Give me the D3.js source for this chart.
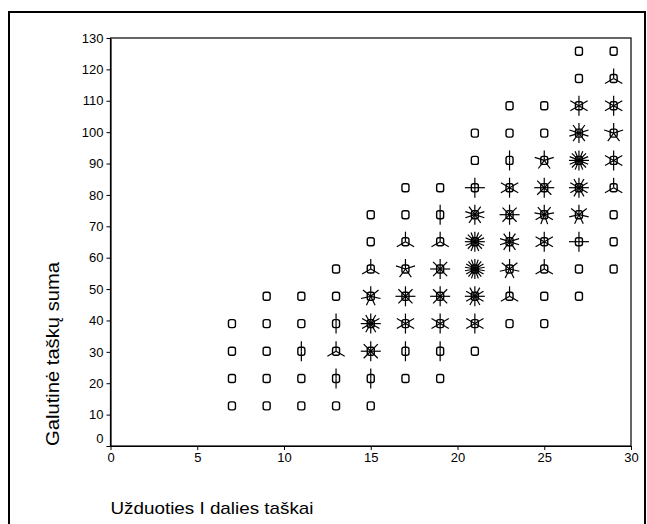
<!DOCTYPE html>
<html>
<head>
<meta charset="utf-8">
<script src="https://cdn.jsdelivr.net/npm/d3@7/dist/d3.min.js"></script>
<style>
  body { margin: 0; background: #fff; }
  svg { display: block; font-family: "Liberation Sans", Arial, sans-serif; }
</style>
</head>
<body>
<div id="chart"></div>
<script>
// sunflower plot: one marker per cell, one petal per observation (count 1 = marker only)
var xCols = [7, 9, 11, 13, 15, 17, 19, 21, 23, 25, 27, 29];
var yRows = [12.8, 21.5, 30.2, 39, 47.7, 56.4, 65.1, 73.7, 82.3, 91, 99.7, 108.4, 117.1, 125.8];
// counts[row][col], 0 = no point
var counts = [
  [1, 1, 1, 1, 1, 0, 0, 0, 0, 0, 0, 0],
  [1, 1, 1, 2, 2, 1, 1, 0, 0, 0, 0, 0],
  [1, 1, 2, 3, 8, 2, 2, 1, 0, 0, 0, 0],
  [1, 1, 1, 2, 12, 6, 6, 6, 1, 1, 0, 0],
  [0, 1, 1, 1, 7, 8, 8, 12, 3, 1, 1, 0],
  [0, 0, 0, 1, 3, 5, 8, 18, 7, 3, 1, 1],
  [0, 0, 0, 0, 1, 3, 3, 16, 10, 6, 4, 1],
  [0, 0, 0, 0, 1, 1, 2, 10, 8, 9, 7, 1],
  [0, 0, 0, 0, 0, 1, 1, 4, 6, 8, 12, 3],
  [0, 0, 0, 0, 0, 0, 0, 1, 2, 5, 16, 6],
  [0, 0, 0, 0, 0, 0, 0, 1, 1, 1, 10, 5],
  [0, 0, 0, 0, 0, 0, 0, 0, 1, 1, 6, 6],
  [0, 0, 0, 0, 0, 0, 0, 0, 0, 0, 1, 3],
  [0, 0, 0, 0, 0, 0, 0, 0, 0, 0, 1, 1]
];
var xTicks = [0, 5, 10, 15, 20, 25, 30];
var yTicks = [0, 10, 20, 30, 40, 50, 60, 70, 80, 90, 100, 110, 120, 130];
var xTitle = "Užduoties I dalies taškai";
var yTitle = "Galutinė taškų suma";

var width = 647, height = 524;
var plot = { left: 110.5, right: 631, top: 38, bottom: 446 };

var svg = d3.select("#chart").append("svg")
  .attr("width", width).attr("height", height);

// outer frame
svg.append("rect")
  .attr("x", 9).attr("y", 12)
  .attr("width", 636).attr("height", 530)
  .attr("fill", "none").attr("stroke", "#000").attr("stroke-width", 2);

var x = d3.scaleLinear().domain([0, 30]).range([plot.left, plot.right]);
var y = d3.scaleLinear().domain([0, 130]).range([plot.bottom, plot.top]);

// plot box
svg.append("rect")
  .attr("x", plot.left).attr("y", plot.top)
  .attr("width", plot.right - plot.left).attr("height", plot.bottom - plot.top)
  .attr("fill", "none").attr("stroke", "#000").attr("stroke-width", 1.2);

var xAxis = svg.append("g")
  .attr("transform", "translate(0," + plot.bottom + ")")
  .call(d3.axisBottom(x).tickValues(xTicks).tickSize(4).tickSizeOuter(0).tickPadding(3));

var yAxis = svg.append("g")
  .attr("transform", "translate(" + plot.left + ",0)")
  .call(d3.axisLeft(y).tickValues(yTicks).tickSize(4).tickSizeOuter(0).tickPadding(3));

[xAxis, yAxis].forEach(function(g) {
  g.select(".domain").attr("stroke", "#000").attr("stroke-width", 1.2);
  g.selectAll(".tick line").attr("stroke", "#000");
  g.selectAll(".tick text").attr("fill", "#000").style("font-size", "13px")
    .style("font-family", "'Liberation Sans', Arial, sans-serif");
});
// the "0" label sits a bit above the corner
yAxis.selectAll(".tick text").filter(function(d) { return d === 0; }).attr("dy", "-0.25em");

svg.append("text")
  .attr("x", plot.left).attr("y", 514)
  .attr("textLength", 203).attr("lengthAdjust", "spacingAndGlyphs")
  .style("font-size", "17px")
  .text(xTitle);

svg.append("text")
  .attr("transform", "translate(59," + plot.bottom + ") rotate(-90)")
  .attr("textLength", 184).attr("lengthAdjust", "spacingAndGlyphs")
  .style("font-size", "18px")
  .text(yTitle);

// build the cells
var cells = [];
counts.forEach(function(row, i) {
  row.forEach(function(n, j) {
    if (n > 0) cells.push({ x: xCols[j], y: yRows[i], n: n });
  });
});

var petalLen = 10;
var flowers = svg.append("g").selectAll("g")
  .data(cells)
  .enter().append("g")
  .attr("transform", function(d) { return "translate(" + x(d.x) + "," + y(d.y) + ")"; });

flowers.selectAll("line")
  .data(function(d) {
    if (d.n < 2) return [];
    return d3.range(d.n).map(function(k) { return Math.PI / 2 + 2 * Math.PI * k / d.n; });
  })
  .enter().append("line")
  .attr("x1", 0).attr("y1", 0)
  .attr("x2", function(a) { return petalLen * Math.cos(a); })
  .attr("y2", function(a) { return -petalLen * Math.sin(a); })
  .attr("stroke", "#000").attr("stroke-width", 1.2);

flowers.append("rect")
  .attr("x", -3.5).attr("y", -4)
  .attr("width", 7).attr("height", 8)
  .attr("rx", 2).attr("ry", 2)
  .attr("fill", "none").attr("stroke", "#000").attr("stroke-width", 1.4);
</script>
</body>
</html>
